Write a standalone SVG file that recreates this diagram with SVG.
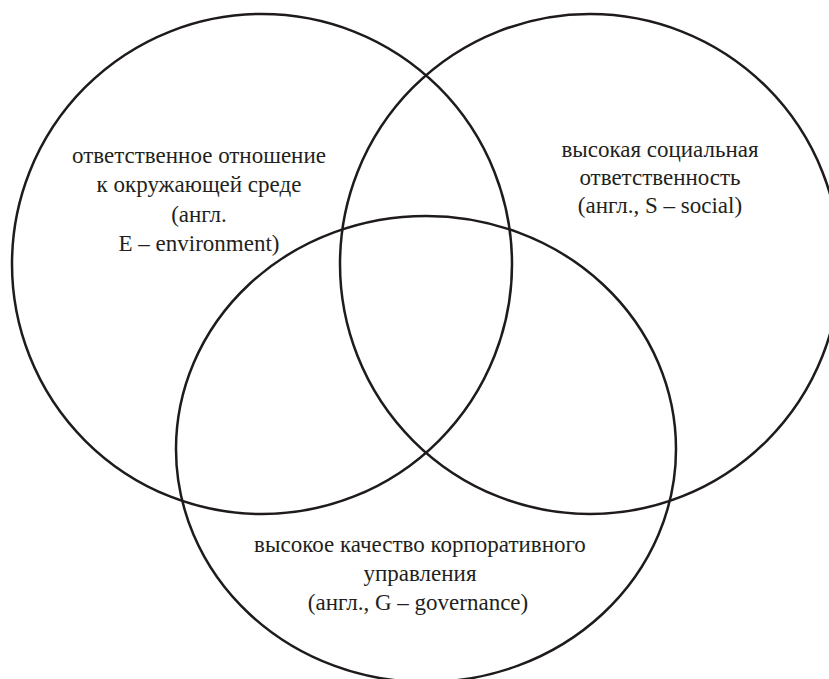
<svg xmlns="http://www.w3.org/2000/svg" width="829" height="679" viewBox="0 0 829 679">
<style>
.c{fill:none;stroke:#1f1b1c;stroke-width:2.5}
.t{font-family:'Liberation Serif','Times New Roman',serif;font-size:23px;fill:#231f20;text-anchor:middle}
</style>
<rect width="829" height="679" fill="#fff"/>
<g id="circle-e"><circle class="c" cx="262" cy="264" r="250"/></g>
<g id="circle-s"><circle class="c" cx="590" cy="264" r="250"/></g>
<g id="circle-g"><ellipse class="c" cx="426" cy="449" rx="250" ry="233"/></g>
<g id="label-e">
<text class="t" x="199" y="163">ответственное отношение</text>
<text class="t" x="199" y="192">к окружающей среде</text>
<text class="t" x="199" y="222">(англ.</text>
<text class="t" x="199" y="251">E – environment)</text>
</g>
<g id="label-s">
<text class="t" x="660" y="157">высокая социальная</text>
<text class="t" x="660" y="185">ответственность</text>
<text class="t" x="660" y="213">(англ., S – social)</text>
</g>
<g id="label-g">
<text class="t" x="420" y="552">высокое качество корпоративного</text>
<text class="t" x="420" y="581">управления</text>
<text class="t" x="418" y="610">(англ., G – governance)</text>
</g>
</svg>
